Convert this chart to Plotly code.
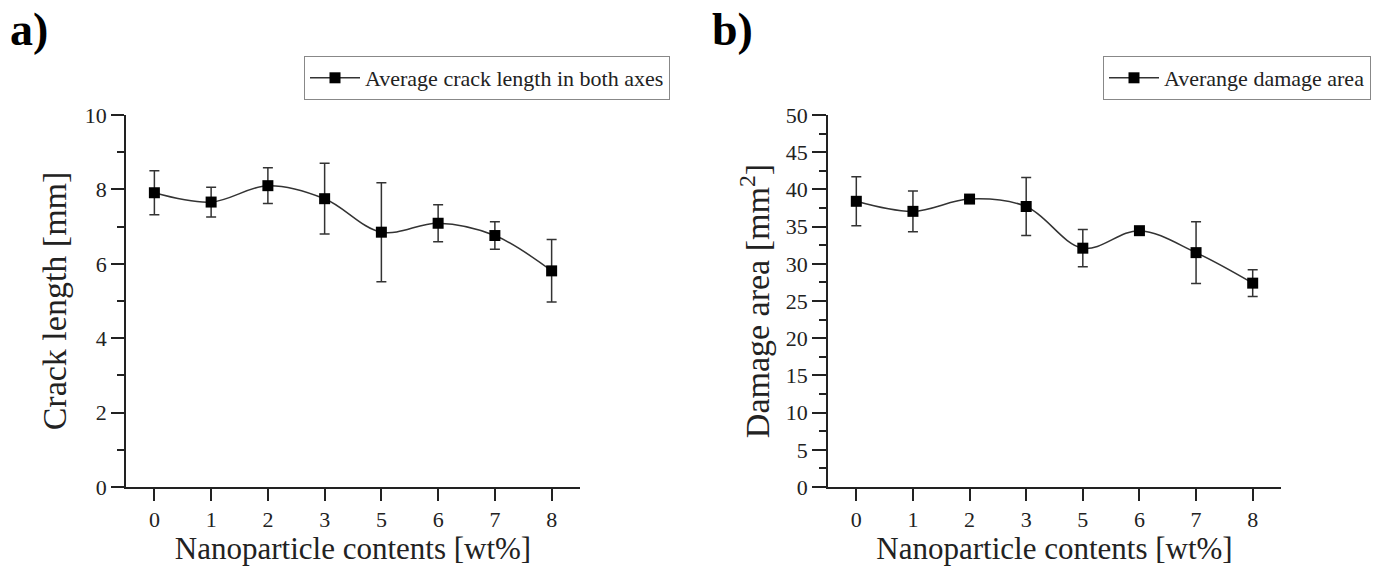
import plotly.graph_objects as go

categories = ["0", "1", "2", "3", "5", "6", "7", "8"]
crack_length = [7.91, 7.66, 8.10, 7.75, 6.85, 7.09, 6.76, 5.81]
crack_err = [0.59, 0.40, 0.48, 0.95, 1.33, 0.50, 0.37, 0.84]
damage_area = [38.4, 37.05, 38.7, 37.7, 32.1, 34.45, 31.5, 27.4]
damage_err = [3.3, 2.75, 0.3, 3.9, 2.5, 0.2, 4.15, 1.8]

FONT = "Liberation Serif, Times New Roman, serif"
W, H = 1379, 566

def px_x(p):
    return p / W

def px_y(p):
    return 1 - p / H

fig = go.Figure()
fig.add_trace(go.Scatter(
    x=categories, y=crack_length, name="Average crack length in both axes",
    mode="lines+markers", line=dict(color="#333333", width=1.5, shape="spline", smoothing=1.0),
    marker=dict(symbol="square", size=11, color="black"),
    error_y=dict(type="data", array=crack_err, color="#333333", thickness=1.5, width=5),
    xaxis="x", yaxis="y", legend="legend",
))
fig.add_trace(go.Scatter(
    x=categories, y=damage_area, name="Averange damage area",
    mode="lines+markers", line=dict(color="#333333", width=1.5, shape="spline", smoothing=1.0),
    marker=dict(symbol="square", size=11, color="black"),
    error_y=dict(type="data", array=damage_err, color="#333333", thickness=1.5, width=5),
    xaxis="x2", yaxis="y2", legend="legend2",
))

ydom = [px_y(487), px_y(115)]
axis_common = dict(showline=True, linecolor="#222222", linewidth=1.5, showgrid=False,
                   zeroline=False, ticks="outside", tickcolor="#222222", tickwidth=1.5,
                   tickfont=dict(family=FONT, size=22, color="#222222"), mirror=False)

xcommon = dict(axis_common, type="category", range=[-0.5, 7.5], ticklen=12,
               title=dict(text="Nanoparticle contents [wt%]", font=dict(family=FONT, size=31, color="#222222"),
                          standoff=7), automargin=False)

legend_common = dict(xanchor="right", yanchor="top", bordercolor="#888888", borderwidth=1,
                     bgcolor="white", itemwidth=50,
                     font=dict(family=FONT, size=22, color="#222222"))

fig.update_layout(
    width=W, height=H, margin=dict(l=0, r=0, t=0, b=0),
    paper_bgcolor="white", plot_bgcolor="white",
    font=dict(family=FONT, color="#222222"),
    xaxis=dict(xcommon, domain=[px_x(126), px_x(580)], anchor="y"),
    xaxis2=dict(xcommon, domain=[px_x(828), px_x(1281)], anchor="y2"),
    yaxis=dict(axis_common, domain=ydom, anchor="x", range=[0, 10], dtick=2, ticklen=13,
               minor=dict(ticks="outside", dtick=1, ticklen=7, tickcolor="#222222", tickwidth=1.5),
               title=dict(text="Crack length [mm]", font=dict(family=FONT, size=34, color="#222222"), standoff=8),
               automargin=False),
    yaxis2=dict(axis_common, domain=ydom, anchor="x2", range=[0, 50], dtick=5, ticklen=14,
                minor=dict(ticks="outside", dtick=2.5, ticklen=7, tickcolor="#222222", tickwidth=1.5),
                title=dict(text="Damage area [mm<sup>2</sup>]", font=dict(family=FONT, size=34, color="#222222"), standoff=6),
                automargin=False),
    legend=dict(legend_common, x=px_x(670), y=px_y(56)),
    legend2=dict(legend_common, x=px_x(1371), y=px_y(56)),
    showlegend=True,
    annotations=[
        dict(text="<b>a)</b>", x=px_x(8), y=px_y(2), xref="paper", yref="paper",
             xanchor="left", yanchor="top", showarrow=False,
             font=dict(family=FONT, size=46, color="black")),
        dict(text="<b>b)</b>", x=px_x(710), y=px_y(2), xref="paper", yref="paper",
             xanchor="left", yanchor="top", showarrow=False,
             font=dict(family=FONT, size=46, color="black")),
    ],
)

fig.write_html("out.html", config={"displayModeBar": False},
               post_script="document.body.style.margin='0';")
